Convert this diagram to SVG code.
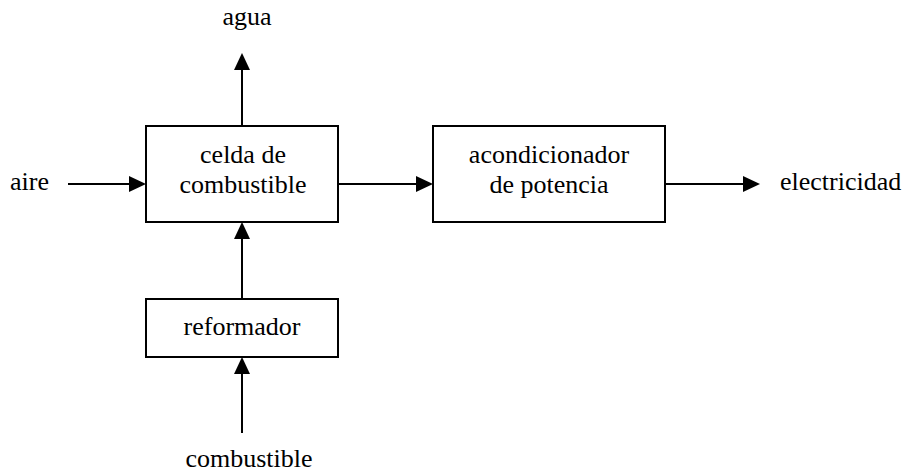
<svg xmlns="http://www.w3.org/2000/svg" width="908" height="472" viewBox="0 0 908 472">
<style>
text{font-family:"Liberation Serif","Times New Roman",serif;font-size:26px;fill:#000}
.box{fill:#fff;stroke:#000;stroke-width:2}
.c{stroke:#000;stroke-width:2;fill:none}
</style>
<defs>
<marker id="ah" markerUnits="userSpaceOnUse" markerWidth="18" markerHeight="16" refX="0" refY="8" orient="auto" viewBox="0 0 18 16">
<path d="M0,0 L17,8 L0,16 z" fill="#000"/>
</marker>
</defs>
<rect width="908" height="472" fill="#fff"/>
<g id="connectors">
<line class="c" x1="242" y1="126" x2="242" y2="70" marker-end="url(#ah)"/>
<line class="c" x1="68" y1="184" x2="129" y2="184" marker-end="url(#ah)"/>
<line class="c" x1="338" y1="184" x2="416" y2="184" marker-end="url(#ah)"/>
<line class="c" x1="665" y1="184" x2="743" y2="184" marker-end="url(#ah)"/>
<line class="c" x1="242" y1="299" x2="242" y2="239" marker-end="url(#ah)"/>
<line class="c" x1="242" y1="433" x2="242" y2="374" marker-end="url(#ah)"/>
</g>
<g id="celda">
<rect class="box" x="146" y="126" width="192" height="96"/>
<text x="243" y="163" text-anchor="middle">celda de</text>
<text x="243" y="193" text-anchor="middle">combustible</text>
</g>
<g id="acondicionador">
<rect class="box" x="433" y="126" width="232" height="96"/>
<text x="549" y="163" text-anchor="middle">acondicionador</text>
<text x="549" y="193" text-anchor="middle">de potencia</text>
</g>
<g id="reformador">
<rect class="box" x="146" y="299" width="192" height="58"/>
<text x="242" y="335" text-anchor="middle">reformador</text>
</g>
<g id="agua"><text x="247" y="25" text-anchor="middle">agua</text></g>
<g id="aire"><text x="10" y="190">aire</text></g>
<g id="electricidad"><text x="780" y="190">electricidad</text></g>
<g id="combustible"><text x="249" y="467" text-anchor="middle">combustible</text></g>
</svg>
